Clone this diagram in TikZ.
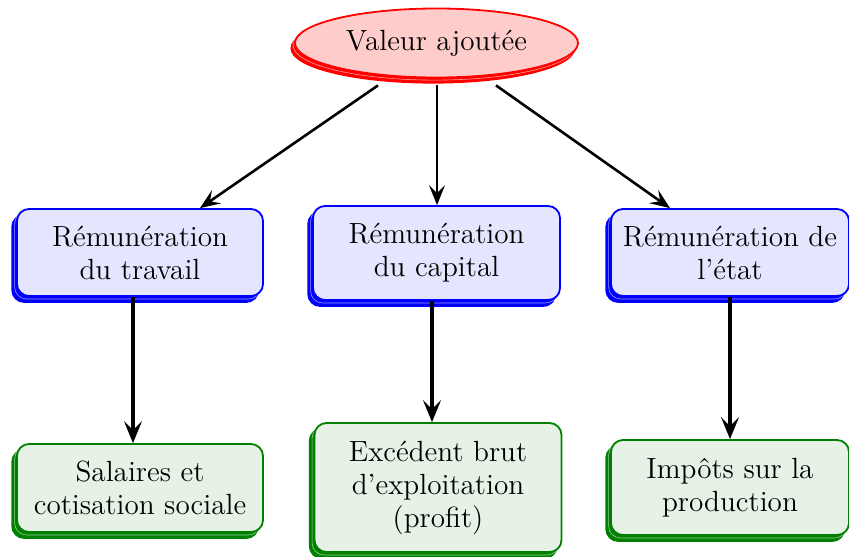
\documentclass[tikz,border=0pt]{standalone}
\usetikzlibrary{shapes.geometric,shadows,arrows.meta}
\definecolor{dgreen}{rgb}{0,0.5,0}
\begin{document}
\begin{tikzpicture}[x=0.5pt,y=-0.5pt,
  every node/.style={font=\fontsize{14.6}{16.5}\selectfont, align=center, inner sep=0pt},
  topell/.style={ellipse, draw=red, line width=0.9pt, fill=red!20,
    general shadow={shadow xshift=-1.8pt, shadow yshift=-2.6pt, fill=red, draw=red},
    general shadow={shadow xshift=-0.9pt, shadow yshift=-1.3pt, fill=red, draw=white!60!red, line width=0.3pt}},
  bluebox/.style={rectangle, rounded corners=6pt, draw=blue, line width=0.9pt, fill=blue!10,
    general shadow={shadow xshift=-2.4pt, shadow yshift=-3pt, fill=blue, draw=blue},
    general shadow={shadow xshift=-1.2pt, shadow yshift=-1.5pt, fill=blue, draw=white!60!blue, line width=0.3pt}},
  greenbox/.style={rectangle, rounded corners=6pt, draw=dgreen, line width=0.9pt, fill=dgreen!10,
    general shadow={shadow xshift=-2.4pt, shadow yshift=-3pt, fill=dgreen, draw=dgreen},
    general shadow={shadow xshift=-1.2pt, shadow yshift=-1.5pt, fill=dgreen, draw=white!60!dgreen, line width=0.3pt}},
  toparrow/.style={line width=1.3pt, -{Stealth[length=10pt,width=8pt,inset=4pt]}},
  downarrow/.style={line width=2pt, -{Stealth[length=11pt,width=9pt,inset=4.5pt]}}
]
\useasboundingbox (0,0) rectangle (849,556);

\node[topell, minimum width=141.5pt, minimum height=34.5pt] (e) at (436.5,43) {Valeur ajoutée};

\node[bluebox, minimum width=123pt, minimum height=43.5pt] (b1) at (140,252.5) {Rémunération\\du travail};
\node[bluebox, minimum width=123.5pt, minimum height=47pt] (b2) at (436.5,253) {Rémunération\\du capital};
\node[bluebox, minimum width=119pt, minimum height=43.5pt] (b3) at (730,252.5) {Rémunération de\\l’état};

\node[greenbox, minimum width=123pt, minimum height=44pt] (g1) at (140,488) {Salaires et\\cotisation sociale};
\node[greenbox, minimum width=123.5pt, minimum height=64.5pt] (g2) at (438,487.5) {Excédent brut\\d’exploitation\\(profit)};
\node[greenbox, minimum width=119pt, minimum height=47.5pt] (g3) at (730,487.5) {Impôts sur la\\production};

\draw[toparrow] ([xshift=-29.25pt,yshift=-3.5pt]e.south) -- ([xshift=30pt]b1.north);
\draw[toparrow] ([xshift=0.25pt,yshift=-3.5pt]e.south) -- ([xshift=0.25pt]b2.north);
\draw[toparrow] ([xshift=29.75pt,yshift=-3.5pt]e.south) -- ([xshift=-30pt]b3.north);

\draw[downarrow] ([xshift=-3.5pt]b1.south) -- ([xshift=-3.5pt]b1.south |- g1.north);
\draw[downarrow] ([xshift=-2.25pt]b2.south) -- ([xshift=-2.25pt]b2.south |- g2.north);
\draw[downarrow] ([xshift=0pt]b3.south) -- ([xshift=0pt]b3.south |- g3.north);
\end{tikzpicture}
\end{document}
